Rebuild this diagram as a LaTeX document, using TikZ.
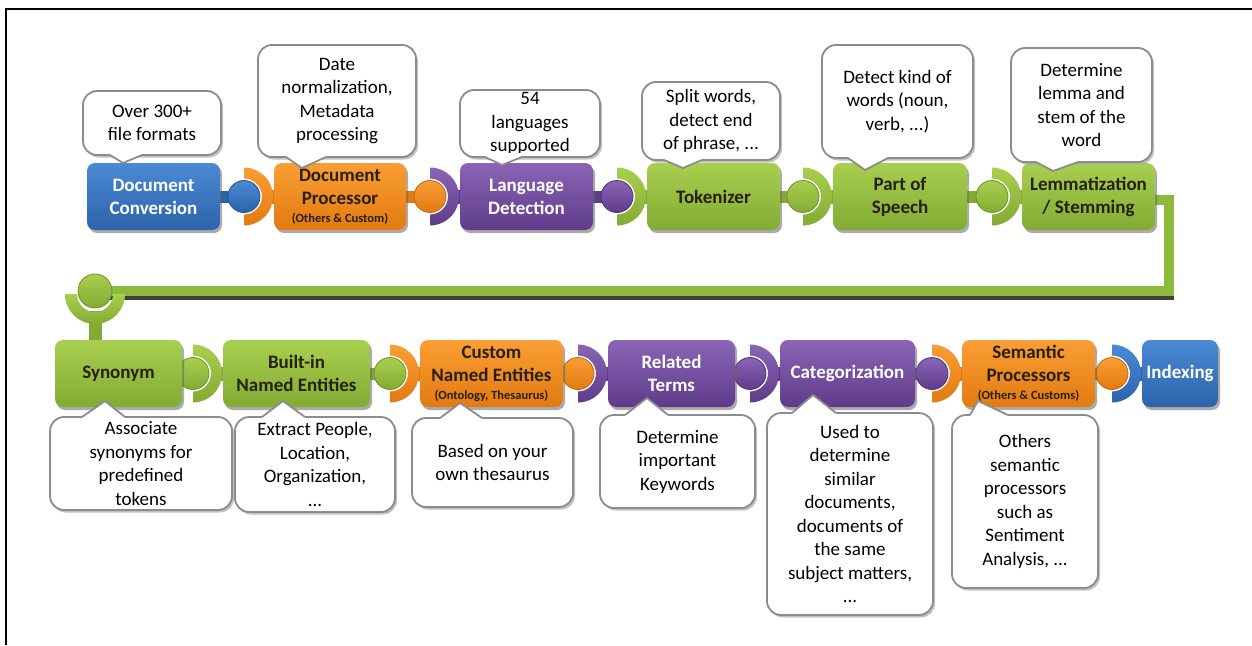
\documentclass[tikz,border=0pt]{standalone}
\usepackage{fontspec}
\setmainfont{Carlito}
\usetikzlibrary{calc,shadows,backgrounds}

\definecolor{bluetop}{HTML}{4A8AD6}
\definecolor{bluebot}{HTML}{2D63A9}
\definecolor{orangetop}{HTML}{FA9E35}
\definecolor{orangebot}{HTML}{E27A10}
\definecolor{purptop}{HTML}{8A64B5}
\definecolor{purpbot}{HTML}{5F3C8A}
\definecolor{greentop}{HTML}{A8CF4E}
\definecolor{greenbot}{HTML}{83AB34}
\definecolor{pipegreen}{HTML}{8DBA3B}
\definecolor{darktext}{HTML}{262010}

\newcommand\plblfont{\fontsize{19}{23}\selectfont\bfseries}
\newcommand\psubfont{\fontsize{12.5}{13}\selectfont\bfseries}
\newcommand\pcallfont{\fontsize{19}{23.5}\selectfont}

\tikzset{
  pbox/.style={rounded corners=8, minimum height=67, inner sep=2, outer sep=0,
    align=center, font=\plblfont,
    drop shadow={shadow xshift=2pt, shadow yshift=-3pt, fill=black!60, opacity=.55}},
  bluebox/.style={pbox, top color=bluetop, bottom color=bluebot, text=white},
  orangebox/.style={pbox, top color=orangetop, bottom color=orangebot, text=darktext},
  purpbox/.style={pbox, top color=purptop, bottom color=purpbot, text=white},
  greenbox/.style={pbox, top color=greentop, bottom color=greenbot, text=darktext},
  callout/.style={fill=white, draw=black!45, line width=1.8, rounded corners=14,
    align=center, inner sep=0, outer sep=0, font=\pcallfont,
    drop shadow={shadow xshift=2pt, shadow yshift=-2.5pt, fill=black!35, opacity=.7}},
  beakline/.style={draw=black!45, line width=1.8, line join=round}
}

% ball of the left box plugged into the socket of the right box
\newcommand\pjoint[4]{%
  \coordinate (jc) at ($(#2.west)+(-30,0)$);
  \fill[#3bot] ($(#1.east)+(-4,-6)$) rectangle ($(jc)+(0,6)$);
  \fill[#4bot] ($(jc)+(24,-7)$) rectangle ($(#2.west)+(2,7)$);
  \shade[top color=#4top, bottom color=#4bot]
    ($(jc)+(0,-29)$) arc[start angle=-90, end angle=90, radius=29]
    -- ($(jc)+(0,18)$) arc[start angle=90, end angle=-90, radius=18] -- cycle;
  \shade[top color=#3top, bottom color=#3bot, draw=#3bot!85!black, line width=0.8]
    (jc) circle[radius=16];
}

% pointer of a callout that sits above its box
\newcommand\beakdown[4]{%
  \fill[white] (#2,0 |- #1.south) -- (#4) -- (#3,0 |- #1.south) -- ++(0,-4)
    -- ($(#2,0 |- #1.south)+(0,-4)$) -- cycle;
  \draw[beakline] (#2,0 |- #1.south) -- (#4) -- (#3,0 |- #1.south);
}
% pointer of a callout that sits below its box
\newcommand\beakup[4]{%
  \fill[white] (#2,0 |- #1.north) -- (#4) -- (#3,0 |- #1.north) -- ++(0,4)
    -- ($(#2,0 |- #1.north)+(0,4)$) -- cycle;
  \draw[beakline] (#2,0 |- #1.north) -- (#4) -- (#3,0 |- #1.north);
}

\begin{document}
\begin{tikzpicture}[x=1pt,y=-1pt]
\useasboundingbox (0,0) rectangle (1252,645);
\draw[line width=2] (1252,9) -- (6,9) -- (6,645);

% ---- first row of processing steps
\node[bluebox,   minimum width=133] (dc)  at (153.5,196.5) {Document\\Conversion};
\node[orangebox, minimum width=132] (dp)  at (340,196.5)   {Document\\Processor\\[-5pt]{\psubfont(Others \& Custom)}};
\node[purpbox,   minimum width=133] (ld)  at (526.5,196.5) {Language\\Detection};
\node[greenbox,  minimum width=133] (tok) at (713.5,196.5) {Tokenizer};
\node[greenbox,  minimum width=134] (pos) at (900,196.5)   {Part of\\Speech};
\node[greenbox,  minimum width=133] (lem) at (1088.5,196.5) {Lemmatization\\/ Stemming};

% ---- second row of processing steps
\node[greenbox,  minimum width=127] (syn) at (118.5,373.5) {Synonym};
\node[greenbox,  minimum width=147] (bin) at (296.5,373.5) {Built-in\\Named Entities};
\node[orangebox, minimum width=143] (cne) at (491.5,373.5) {Custom\\Named Entities\\[-5pt]{\psubfont(Ontology, Thesaurus)}};
\node[purpbox,   minimum width=127] (rel) at (671.5,373.5) {Related\\Terms};
\node[purpbox,   minimum width=135] (cat) at (847.5,373.5) {Categorization};
\node[orangebox, minimum width=133] (sem) at (1028.5,373.5) {Semantic\\Processors\\[-5pt]{\psubfont(Others \& Customs)}};
\node[bluebox,   minimum width=76]  (idx) at (1180,373.5) {Indexing};

% ---- pipe, ball-and-socket joints
\begin{pgfonlayer}{background}
  \coordinate (bend) at (1168.5,291);
  \coordinate (sb) at ($(syn.north west)+(40,-49)$);
  \draw[black!75, line width=4] ($(sb)+(0,7)$) -- ($(bend)+(5,7)$);
  \draw[pipegreen, line width=10, line join=miter] ($(lem.east)+(-2,3)$) -| (bend) -- (sb);
  \fill[greenbot] ($(sb)+(-6,20)$) rectangle ($(syn.north west)+(47,2)$);
  \shade[top color=greentop, bottom color=greenbot]
    ($(sb)+(-30,3)$) arc[start angle=180, end angle=0, radius=30]
    -- ($(sb)+(18,3)$) arc[start angle=0, end angle=180, radius=18] -- cycle;
  \shade[top color=greentop, bottom color=greenbot, draw=greenbot!85!black, line width=0.8]
    (sb) circle[radius=17];
  \pjoint{dc}{dp}{blue}{orange}
  \pjoint{dp}{ld}{orange}{purp}
  \pjoint{ld}{tok}{purp}{green}
  \pjoint{tok}{pos}{green}{green}
  \pjoint{pos}{lem}{green}{green}
  \pjoint{syn}{bin}{green}{green}
  \pjoint{bin}{cne}{green}{orange}
  \pjoint{cne}{rel}{orange}{purp}
  \pjoint{rel}{cat}{purp}{purp}
  \pjoint{cat}{sem}{purp}{orange}
  \pjoint{sem}{idx}{orange}{blue}
\end{pgfonlayer}

% ---- callouts above the first row
\node[callout, minimum width=138, minimum height=64]  (c1) at (152,123)    {Over 300+\\file formats};
\node[callout, minimum width=158, minimum height=112] (c2) at (337,101)    {Date\\normalization,\\Metadata\\processing};
\node[callout, minimum width=140, minimum height=67]  (c3) at (530,123.5)  {54\\languages\\supported};
\node[callout, minimum width=138, minimum height=78]  (c4) at (711,121)    {Split words,\\detect end\\of phrase, ...};
\node[callout, minimum width=151, minimum height=113] (c5) at (897.5,101.5) {Detect kind of\\words (noun,\\verb, ...)};
\node[callout, minimum width=141, minimum height=114] (c6) at (1081.5,105) {Determine\\lemma and\\stem of the\\word};

\coordinate (t1) at ($(dc.north west)+(36,0)$);
\coordinate (t2) at ($(dp.north west)+(28,5)$);
\coordinate (t3) at ($(ld.north west)+(42,2)$);
\coordinate (t4) at ($(tok.north west)+(36,5)$);
\coordinate (t5) at ($(pos.north west)+(32,7)$);
\coordinate (t6) at ($(lem.north west)+(31,8)$);
\beakdown{c1}{110}{142}{t1}
\beakdown{c2}{286}{326}{t2}
\beakdown{c3}{485}{522}{t3}
\beakdown{c4}{664}{702}{t4}
\beakdown{c5}{848}{888}{t5}
\beakdown{c6}{1036}{1078}{t6}

% ---- callouts below the second row
\node[callout, minimum width=182, minimum height=93]  (c7)  at (141,463.5)   {Associate\\synonyms for\\predefined\\tokens};
\node[callout, minimum width=160, minimum height=95]  (c8)  at (315,464.5)   {Extract People,\\Location,\\Organization,\\...};
\node[callout, minimum width=161, minimum height=89]  (c9)  at (492.5,462.5) {Based on your\\own thesaurus};
\node[callout, minimum width=155, minimum height=93]  (c10) at (677.5,461.5) {Determine\\important\\Keywords};
\node[callout, minimum width=166, minimum height=202] (c11) at (850,514)     {Used to\\determine\\similar\\documents,\\documents of\\the same\\subject matters,\\...};
\node[callout, minimum width=146, minimum height=173] (c12) at (1025,501.5)  {Others\\semantic\\processors\\such as\\Sentiment\\Analysis, ...};

\coordinate (t7)  at ($(syn.south west)+(50,-6)$);
\coordinate (t8)  at ($(bin.south west)+(60,-6)$);
\coordinate (t9)  at ($(cne.south west)+(40,-4)$);
\coordinate (t10) at ($(rel.south west)+(39,-9)$);
\coordinate (t11) at ($(cat.south west)+(33,-12)$);
\coordinate (t12) at ($(sem.south west)+(16,-6)$);
\beakup{c7}{82}{125}{t7}
\beakup{c8}{262}{305}{t8}
\beakup{c9}{440}{482}{t9}
\beakup{c10}{625}{668}{t10}
\beakup{c11}{792}{836}{t11}
\beakup{c12}{970}{1008}{t12}
\end{tikzpicture}
\end{document}
